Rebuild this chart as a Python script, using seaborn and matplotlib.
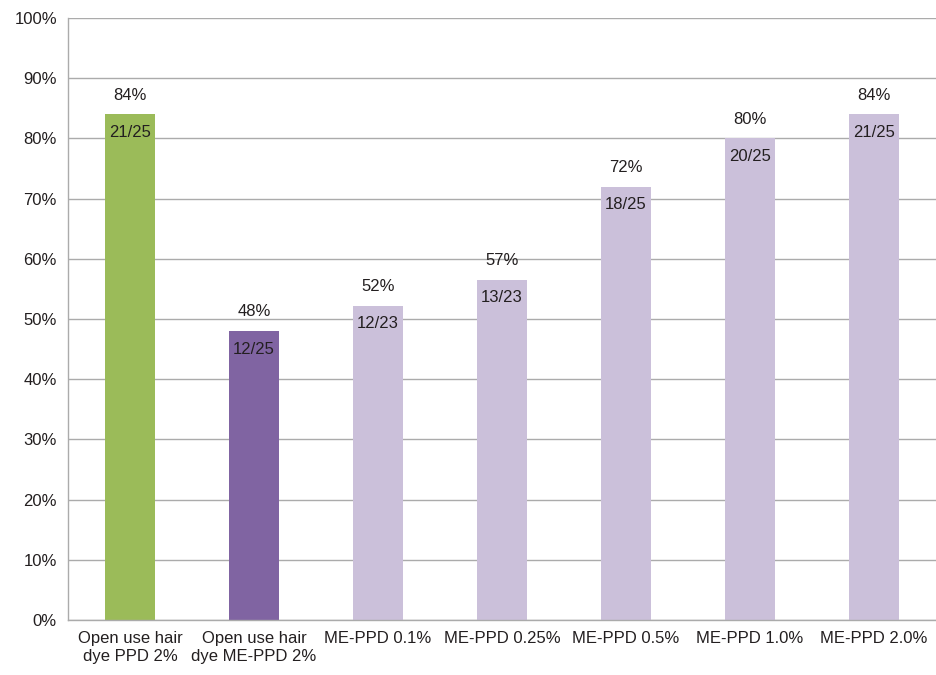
import numpy as np
import pandas as pd
import matplotlib
matplotlib.use("Agg")
import matplotlib.pyplot as plt
import seaborn as sns
from matplotlib.ticker import FixedLocator, PercentFormatter

# datos
categorias = ["Open use hair\ndye PPD 2%", "Open use hair\ndye ME-PPD 2%", "ME-PPD 0.1%",
              "ME-PPD 0.25%", "ME-PPD 0.5%", "ME-PPD 1.0%", "ME-PPD 2.0%"]
positivos = [21, 12, 12, 13, 18, 20, 21]
totales = [25, 25, 23, 23, 25, 25, 25]
etiquetas_pct = ["84%", "48%", "52%", "57%", "72%", "80%", "84%"]
colores = ["#9BBB59", "#8064A2", "#CBC0DA", "#CBC0DA", "#CBC0DA", "#CBC0DA", "#CBC0DA"]

df = pd.DataFrame({
    "categoria": categorias,
    "porcentaje": [p / t * 100 for p, t in zip(positivos, totales)],
})

sns.set_style("white")
plt.rcParams["font.family"] = ["Liberation Sans", "DejaVu Sans"]
texto = "#231F20"
gris = "#ABABAB"

fig = plt.figure(figsize=(9.36, 6.75), dpi=100)
ax = fig.add_axes([68 / 936, 1 - 620 / 675, 868 / 936, 602 / 675])

sns.barplot(data=df, x="categoria", y="porcentaje", hue="categoria",
            palette=colores, width=0.4, legend=False, ax=ax, saturation=1,
            linewidth=0, edgecolor="none")

ax.set_ylim(0, 100)
ax.set_xlim(-0.5, len(categorias) - 0.5)
ax.set_yticks(np.arange(0, 101, 10))
ax.yaxis.set_major_formatter(PercentFormatter(decimals=0))
ax.yaxis.grid(True, color=gris, linewidth=1.0)
ax.set_axisbelow(True)

for s in ["top", "right"]:
    ax.spines[s].set_visible(False)
for s in ["left", "bottom"]:
    ax.spines[s].set_color(gris)
    ax.spines[s].set_linewidth(1.0)

ax.tick_params(axis="y", length=6, color=gris, width=1.0, labelsize=12, labelcolor=texto, pad=2)
ax.tick_params(axis="x", which="major", length=0, labelsize=12, labelcolor=texto, pad=8)
ax.xaxis.set_minor_locator(FixedLocator(np.arange(0.5, len(categorias), 1)))
ax.tick_params(axis="x", which="minor", length=6, color=gris, width=1.0)
ax.set_xlabel("")
ax.set_ylabel("")

for i, (v, p, t, lab) in enumerate(zip(df["porcentaje"], positivos, totales, etiquetas_pct)):
    ax.text(i, v + 3.2, lab, ha="center", va="center", fontsize=12, color=texto)
    ax.text(i, v - 3.0, f"{p}/{t}", ha="center", va="center", fontsize=12, color=texto)

fig.savefig("out.png", dpi=100)
